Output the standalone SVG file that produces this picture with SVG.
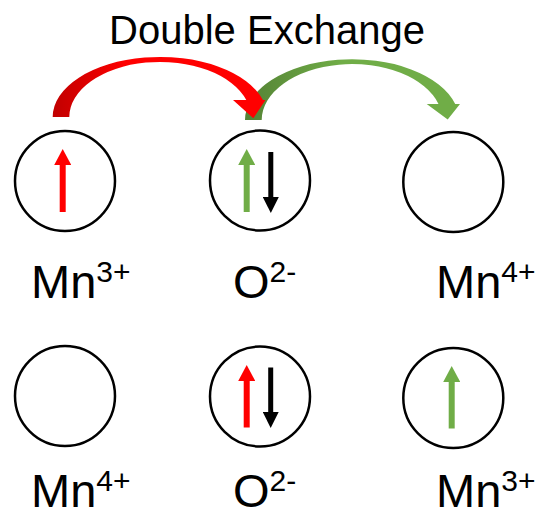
<svg xmlns="http://www.w3.org/2000/svg" width="545" height="518" viewBox="0 0 545 518">
<defs>
<linearGradient id="gRed" x1="52" y1="0" x2="266" y2="0" gradientUnits="userSpaceOnUse">
<stop offset="0" stop-color="#C00000"/><stop offset="0.35" stop-color="#FF0000"/><stop offset="1" stop-color="#FF0000"/>
</linearGradient>
<linearGradient id="gGreen" x1="245" y1="0" x2="460" y2="0" gradientUnits="userSpaceOnUse">
<stop offset="0" stop-color="#548235"/><stop offset="0.45" stop-color="#70AD47"/><stop offset="1" stop-color="#70AD47"/>
</linearGradient>
<marker id="hRed" viewBox="0 0 10 10" refX="0" refY="5" markerWidth="16" markerHeight="17" markerUnits="userSpaceOnUse" orient="auto" preserveAspectRatio="none"><path d="M0,0 L10,5 L0,10 Z" fill="#FF0000"/></marker>
<marker id="hGreen" viewBox="0 0 10 10" refX="0" refY="5" markerWidth="16" markerHeight="17" markerUnits="userSpaceOnUse" orient="auto" preserveAspectRatio="none"><path d="M0,0 L10,5 L0,10 Z" fill="#70AD47"/></marker>
<marker id="hBlack" viewBox="0 0 10 10" refX="0" refY="5" markerWidth="16" markerHeight="16" markerUnits="userSpaceOnUse" orient="auto" preserveAspectRatio="none"><path d="M0,0 L10,5 L0,10 Z" fill="#000000"/></marker>
</defs>
<style>
.site{fill:#FFFFFF;stroke:#000000;stroke-width:2.5}
.lbl{font-family:"Liberation Sans",Arial,sans-serif;font-size:47px;fill:#000000}
.sup{font-size:30px}
.title{font-family:"Liberation Sans",Arial,sans-serif;font-size:40px;fill:#000000}
.up-red{stroke:#FF0000;stroke-width:6;fill:none}
.up-green{stroke:#70AD47;stroke-width:6;fill:none}
.down{stroke:#000000;stroke-width:5;fill:none}
</style>
<text class="title" x="267" y="44" text-anchor="middle">Double Exchange</text>
<g id="connectors">
<path id="hop-green" d="M 245,120 A 107,60.7 0 0 1 455.2,104 L 460,104 L 447.7,119.5 L 426.7,104 L 438.5,104 A 90.3,56 0 0 0 261.7,120 Z" fill="url(#gGreen)"/>
<path id="hop-red" d="M 52.7,117 A 107.3,60 0 0 1 262.9,100 L 265.5,100 L 253.3,118.3 L 233,100 L 246.3,100 A 90.7,55 0 0 0 69.3,117 Z" fill="url(#gRed)"/>
</g>
<g id="mn3-top">
<circle class="site" cx="65" cy="181" r="50"/>
<line class="up-red" x1="62.7" y1="212" x2="62.7" y2="165" marker-end="url(#hRed)"/>
<text class="lbl" x="31" y="298">Mn<tspan class="sup" dy="-16">3+</tspan></text>
</g>
<g id="o-top">
<circle class="site" cx="260" cy="180.5" r="50"/>
<line class="up-green" x1="246.7" y1="212" x2="246.7" y2="165" marker-end="url(#hGreen)"/>
<line class="down" x1="270.8" y1="152" x2="270.8" y2="197" marker-end="url(#hBlack)"/>
<text class="lbl" x="233" y="298">O<tspan class="sup" dy="-16">2-</tspan></text>
</g>
<g id="mn4-top">
<circle class="site" cx="453.3" cy="182" r="50"/>
<text class="lbl" x="436" y="298">Mn<tspan class="sup" dy="-16">4+</tspan></text>
</g>
<g id="mn4-bottom">
<circle class="site" cx="65" cy="396" r="50"/>
<text class="lbl" x="31" y="507">Mn<tspan class="sup" dy="-16">4+</tspan></text>
</g>
<g id="o-bottom">
<circle class="site" cx="260" cy="396.5" r="50"/>
<line class="up-red" x1="246.7" y1="427.5" x2="246.7" y2="381" marker-end="url(#hRed)"/>
<line class="down" x1="270.7" y1="367.5" x2="270.7" y2="412" marker-end="url(#hBlack)"/>
<text class="lbl" x="233" y="507">O<tspan class="sup" dy="-16">2-</tspan></text>
</g>
<g id="mn3-bottom">
<circle class="site" cx="453.3" cy="398" r="50"/>
<line class="up-green" x1="451.7" y1="428.5" x2="451.7" y2="382" marker-end="url(#hGreen)"/>
<text class="lbl" x="436" y="507">Mn<tspan class="sup" dy="-16">3+</tspan></text>
</g>
</svg>
